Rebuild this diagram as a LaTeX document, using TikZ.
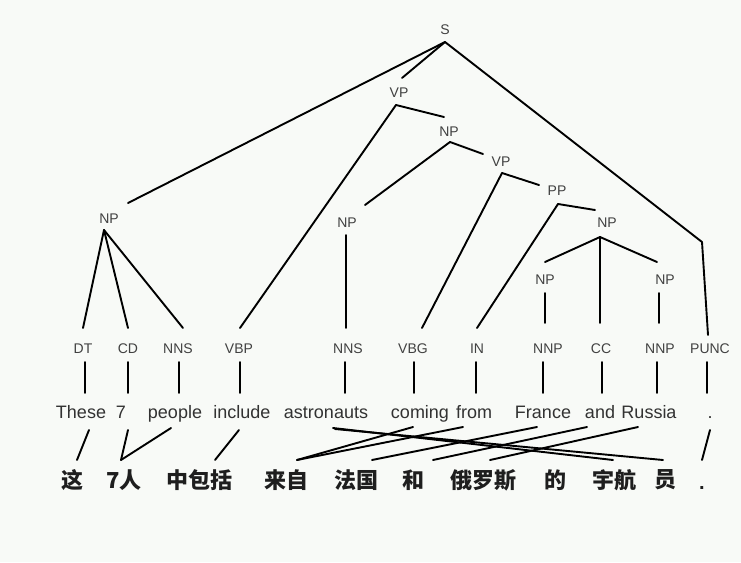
\documentclass[tikz,border=0pt]{standalone}
\usepackage{fontspec}
\setmainfont{Liberation Sans}
\newfontfamily\cjk{Noto Sans CJK SC}
\usetikzlibrary{calc}
\definecolor{bg}{RGB}{248,250,247}
\definecolor{labtxt}{RGB}{65,65,65}
\definecolor{wordtxt}{RGB}{50,50,50}
\definecolor{zhtxt}{RGB}{30,30,30}
\begin{document}
\begin{tikzpicture}[x=1pt,y=-1pt,
  lab/.style={font=\fontsize{14}{14}\selectfont, text=labtxt, inner sep=0pt},
  word/.style={font=\fontsize{18}{18}\selectfont, text=wordtxt, inner sep=0pt, anchor=base},
  zh/.style={font=\cjk\bfseries\fontsize{22}{22}\selectfont, text=zhtxt, inner sep=0pt},
  edge/.style={draw=black, line width=1.9pt, line cap=round, line join=round}]
\fill[bg] (0,0) rectangle (741,562);
\useasboundingbox (0,0) rectangle (741,562);
% phrase labels
\node[lab] (S) at (445,30) {S};
\node[lab] (VP1) at (399,93) {VP};
\node[lab] (NP2) at (449,132) {NP};
\node[lab] (VP2) at (501,162) {VP};
\node[lab] (PP) at (557,191) {PP};
\node[lab] (NPc) at (607,223) {NP};
\node[lab] (NPf) at (545,280) {NP};
\node[lab] (NPr) at (665,280) {NP};
\node[lab] (NPL) at (109,219) {NP};
\node[lab] (NPa) at (347,223) {NP};
% POS labels
\node[lab] (DT) at (83,349) {DT};
\node[lab] (CD) at (128,349) {CD};
\node[lab] (NNSa) at (178,349) {NNS};
\node[lab] (VBP) at (239,349) {VBP};
\node[lab] (NNSb) at (348,349) {NNS};
\node[lab] (VBG) at (413,349) {VBG};
\node[lab] (IN) at (477,349) {IN};
\node[lab] (NNPa) at (548,349) {NNP};
\node[lab] (CC) at (601,349) {CC};
\node[lab] (NNPb) at (660,349) {NNP};
\node[lab] (PUNC) at (710,349) {PUNC};
% English words
\node[word] (wThese) at (81,418) {These};
\node[word] (wSeven) at (121,418) {7};
\node[word] (wPeople) at (175,418) {people};
\node[word] (wInclude) at (242,418) {include};
\node[word] (wAstro) at (326,418) {astronauts};
\node[word] (wComing) at (420,418) {coming};
\node[word] (wFrom) at (474,418) {from};
\node[word] (wFrance) at (543,418) {France};
\node[word] (wAnd) at (600,418) {and};
\node[word] (wRussia) at (649,418) {Russia};
\node[word] (wDot) at (710,418) {.};
% Chinese words
\node[zh] (zZhe) at (72,480) {这};
\node[zh] (zQiren) at (124,480) {7人};
\node[zh] (zBaokuo) at (199,480) {中包括};
\node[zh] (zLaizi) at (286,480) {来自};
\node[zh] (zFaguo) at (356,480) {法国};
\node[zh] (zHe) at (413,480) {和};
\node[zh] (zEluosi) at (483,480) {俄罗斯};
\node[zh] (zDe) at (555,480) {的};
\node[zh] (zYuhang) at (614,480) {宇航};
\node[zh] (zYuan) at (665,480) {员};
\node[word, font=\bfseries\fontsize{20}{20}\selectfont, text=zhtxt] (zDot) at (702,489) {.};
% tree edges
\draw[edge] ($(S)+(0,12)$) -- ($(NPL)+(19,-16)$);
\draw[edge] ($(S)+(0,12)$) -- ($(VP1)+(3,-15)$);
\draw[edge] ($(S)+(0,12)$) -- ($(PUNC)+(-8,-107)$) -- ($(PUNC)+(-2,-14)$);
\draw[edge] ($(VP1)+(-3,12)$) -- ($(NP2)+(-5,-15)$);
\draw[edge] ($(VP1)+(-3,12)$) -- ($(VBP)+(1,-21)$);
\draw[edge] ($(NP2)+(1,10)$) -- ($(VP2)+(-18,-8)$);
\draw[edge] ($(NP2)+(1,10)$) -- ($(NPa)+(18,-18)$);
\draw[edge] ($(VP2)+(1,11)$) -- ($(PP)+(-18,-6)$);
\draw[edge] ($(VP2)+(1,11)$) -- ($(VBG)+(9,-21)$);
\draw[edge] ($(PP)+(1,13)$) -- ($(NPc)+(-12,-13)$);
\draw[edge] ($(PP)+(1,13)$) -- ($(IN)+(0,-21)$);
\draw[edge] ($(NPc)+(-7,14)$) -- ($(NPf)+(0,-18)$);
\draw[edge] ($(NPc)+(-7,14)$) -- ($(CC)+(-1,-26)$);
\draw[edge] ($(NPc)+(-7,14)$) -- ($(NPr)+(-8,-18)$);
\draw[edge] ($(NPf)+(0,13)$) -- ($(NNPa)+(-3,-26)$);
\draw[edge] ($(NPr)+(-6,13)$) -- ($(NNPb)+(-1,-26)$);
\draw[edge] ($(NPa)+(-1,12)$) -- ($(NNSb)+(-2,-21)$);
\draw[edge] ($(NPL)+(-5,11)$) -- ($(DT)+(0,-21)$);
\draw[edge] ($(NPL)+(-5,11)$) -- ($(CD)+(0,-21)$);
\draw[edge] ($(NPL)+(-5,11)$) -- ($(NNSa)+(5,-21)$);
% POS to word
\foreach \p/\w/\dx in {DT/wThese/2, CD/wSeven/0, NNSa/wPeople/1, VBP/wInclude/1,
  NNSb/wAstro/-3, VBG/wComing/1, IN/wFrom/-1, NNPa/wFrance/-5, CC/wAnd/1,
  NNPb/wRussia/-3, PUNC/wDot/-3}{
  \draw[edge] ($(\p)+(\dx,13)$) -- ($(\p)+(\dx,44)$);
}
% word alignments
\draw[edge] ($(wThese.base)+(8,12)$) -- ($(zZhe)+(5,-20)$);
\draw[edge] ($(wSeven.base)+(7,12)$) -- ($(zQiren)+(-3,-20)$);
\draw[edge] ($(wPeople.base)+(-4,10)$) -- ($(zQiren)+(-3,-20)$);
\draw[edge] ($(wInclude.base)+(-3,12)$) -- ($(zBaokuo)+(16,-20)$);
\draw[edge] ($(wAstro.base)+(7,10)$) -- ($(zYuhang)+(-1,-20)$);
\draw[edge] ($(wAstro.base)+(9,11)$) -- ($(zYuan)+(-2,-20)$);
\draw[edge] ($(wComing.base)+(-7,9)$) -- ($(zLaizi)+(11,-20)$);
\draw[edge] ($(wFrom.base)+(-11,9)$) -- ($(zLaizi)+(11,-20)$);
\draw[edge] ($(wFrance.base)+(-6,9)$) -- ($(zFaguo)+(16,-20)$);
\draw[edge] ($(wAnd.base)+(-13,9)$) -- ($(zHe)+(20,-20)$);
\draw[edge] ($(wRussia.base)+(-11,9)$) -- ($(zEluosi)+(7,-20)$);
\draw[edge] ($(wDot.base)+(0,12)$) -- ($(zDot.base)+(0,-29)$);
\end{tikzpicture}
\end{document}
